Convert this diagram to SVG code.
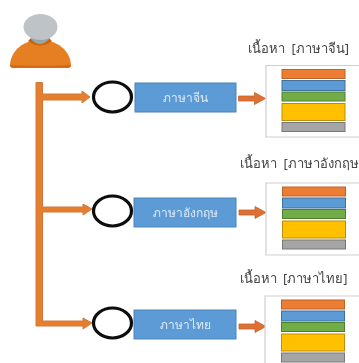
<svg xmlns="http://www.w3.org/2000/svg" width="359" height="363" viewBox="0 0 359 363">
<defs>
<filter id="b" x="-5%" y="-5%" width="110%" height="110%"><feGaussianBlur stdDeviation="0.5"/></filter>
<filter id="t" x="-5%" y="-20%" width="110%" height="140%"><feGaussianBlur stdDeviation="0.3"/></filter>
<g id="stack">
<rect x="0" y="0" width="63" height="9" fill="#ed7d31" stroke="#b9622a"/>
<rect x="0" y="11" width="63" height="10" fill="#5b9bd5" stroke="#41719c"/>
<rect x="0" y="22.500" width="63" height="9" fill="#70ad47" stroke="#507e32"/>
<rect x="0" y="34" width="63" height="17" fill="#ffc000" stroke="#bc8e0a"/>
<rect x="0" y="53" width="63" height="9" fill="#a5a5a5" stroke="#787878"/>
</g>
<path id="arr" d="M0-2.500H16V-6L27 0L16 6V2.500H0Z" fill="#dd7030" stroke="#c8662c" stroke-width=".8"/>
</defs>
<style>
.lbl{font:12px "Noto Sans",sans-serif;fill:#dfe9f5;text-anchor:middle;filter:url(#t)}
.ttl{font:13px "Noto Sans",sans-serif;fill:#444;text-anchor:middle;word-spacing:3px;filter:url(#t)}
.box{fill:#5b9bd5;stroke:#4a84b8;stroke-width:1}
.ring{fill:#fff;stroke:#0a0a0a;stroke-width:3.200}
.panel{fill:#fff;stroke:#cfcfcf;stroke-width:1.200}
.orange{fill:#e67e2e;stroke:#cf7a3e;stroke-width:1}
</style>
<g id="person" filter="url(#b)">
<path d="M10 65C11 50 24 40 40 40C57 40 70 50 71 65Q71 68 67 68H14Q10 68 10 65Z" fill="#e67e22"/>
<path d="M10 65Q10 68 14 68H67Q71 68 71 65Q40 66 10 65Z" fill="#d46a14"/>
<path d="M28 41Q40 50 52 41L49 38H31Z" fill="#c9650f"/>
<path d="M30 38Q40 50 50 38Z" fill="#97a5a9"/>
<ellipse cx="40.500" cy="27" rx="17" ry="13" fill="#bdc3c7"/>
</g>
<g id="connectors" filter="url(#b)">
<path class="orange" d="M36 82.500H42.500V94H82V91L90 97L82 103V100H42.500V207H83V204L92 209L83 215V212H42.500V321H83V318L92 323L83 329V326H36Z"/>
<use href="#arr" x="238.500" y="98.500"/>
<use href="#arr" x="239" y="212.500"/>
<use href="#arr" x="239" y="326.500"/>
</g>
<g id="ring-1" filter="url(#b)"><ellipse class="ring" cx="112.500" cy="97" rx="19" ry="15"/></g>
<g id="ring-2" filter="url(#b)"><ellipse class="ring" cx="112.500" cy="211" rx="19" ry="15"/></g>
<g id="ring-3" filter="url(#b)"><ellipse class="ring" cx="112.500" cy="323" rx="19" ry="15"/></g>
<g id="box-1"><rect class="box" x="135" y="83" width="101" height="29" filter="url(#b)"/><text class="lbl" x="185.500" y="102">ภาษาจีน</text></g>
<g id="box-2"><rect class="box" x="134" y="198" width="102" height="29" filter="url(#b)"/><text class="lbl" x="185" y="217">ภาษาอังกฤษ</text></g>
<g id="box-3"><rect class="box" x="134" y="310" width="102" height="29" filter="url(#b)"/><text class="lbl" x="185" y="329">ภาษาไทย</text></g>
<g id="title-1"><text class="ttl" x="298.500" y="53">เนื้อหา [ภาษาจีน]</text></g>
<g id="title-2"><text class="ttl" x="299.500" y="168">เนื้อหา [ภาษาอังกฤษ</text></g>
<g id="title-3"><text class="ttl" x="293.500" y="283">เนื้อหา [ภาษาไทย]</text></g>
<g id="panel-1" filter="url(#b)"><path class="panel" d="M359 65.500H266V137H359"/><use href="#stack" x="282" y="69.500"/></g>
<g id="panel-2" filter="url(#b)"><path class="panel" d="M359 183H266V255H359"/><use href="#stack" x="282.500" y="187"/></g>
<g id="panel-3" filter="url(#b)"><path class="panel" d="M359 296H265V364"/><use href="#stack" x="281.500" y="300"/></g>
</svg>
